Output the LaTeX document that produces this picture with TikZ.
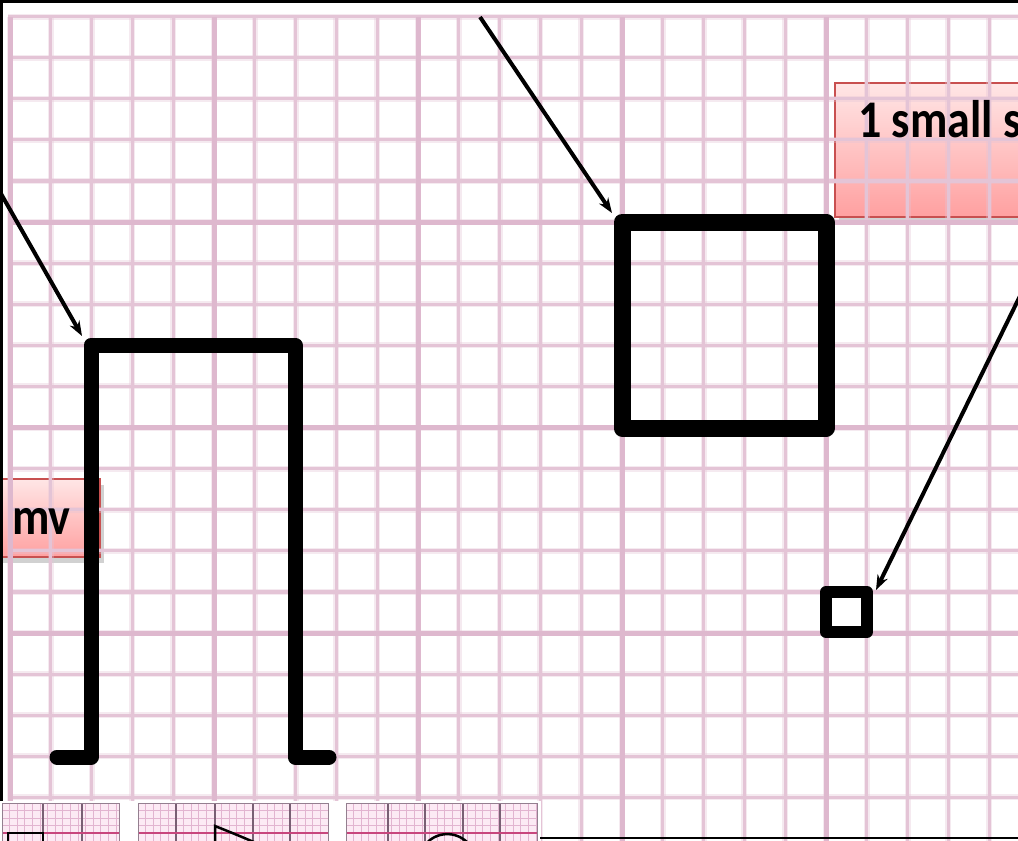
\documentclass[tikz,border=0pt]{standalone}
\usepackage{fontspec}
\usepackage{graphicx}
\newfontfamily\calib{Carlito}
\usetikzlibrary{arrows.meta}
\definecolor{gridc}{RGB}{228,196,214}
\definecolor{gridM}{RGB}{222,184,206}
\definecolor{boxtop}{RGB}{255,230,230}
\definecolor{boxbot}{RGB}{255,160,160}
\definecolor{boxedge}{RGB}{200,80,80}
\definecolor{thbg}{RGB}{252,234,244}
\definecolor{thfine}{RGB}{226,180,208}
\definecolor{thmaj}{RGB}{120,95,115}
\definecolor{thred}{RGB}{200,70,125}
\definecolor{baseline}{RGB}{75,65,72}

\newcommand{\thumbbox}[3]{%
  \begin{scope}
    \clip (#1,803) rectangle (#2,841);
    \fill[thbg] (#1,803) rectangle (#2,841);
    \foreach \i in {0,...,26}{\draw[thfine,line width=0.8pt] ({#1+\i*7.6},803) -- ({#1+\i*7.6},841);}
    \foreach \i in {0,...,5}{\draw[thfine,line width=0.8pt] (#1,{803+\i*7.6}) -- (#2,{803+\i*7.6});}
    \foreach \m in {#3}{\draw[thmaj,line width=1.2pt] (\m,803) -- (\m,841);}
    \draw[thred,line width=1.5pt] (#1,833) -- (#2,833);
  \end{scope}
  \draw[thmaj!80,line width=1pt] (#1,841) |- (#2,803) -- (#2,841);
}

\tikzset{
  halo/.style={line width=6pt, color=gridc, opacity=0.35},
  minorg/.style={line width=3.2pt, color=gridc},
  majorg/.style={line width=5pt, color=gridM},
  heavy/.style={line width=15pt, line join=round, line cap=round, black},
  arr/.style={line width=4pt, black, -{Stealth[length=15pt,width=11pt]}},
  lblbox/.style={top color=boxtop, bottom color=boxbot, draw=boxedge, line width=1.2pt},
  shadowbox/.style={fill=black, opacity=0.18},
  lbltext/.style={inner sep=0pt, font=\calib\bfseries\fontsize{46}{50}\selectfont}
}

\begin{document}
\begin{tikzpicture}[x=1pt,y=-1pt]
\useasboundingbox (0,0) rectangle (1018,841);
\clip (0,0) rectangle (1018,841);
\fill[white] (0,0) rectangle (1018,841);

% label boxes (beneath the grid)
\fill[shadowbox] (839,89) rectangle (1025,223);
\path[lblbox] (835,83) rectangle (1025,217);
\fill[shadowbox] (-5,485) rectangle (104,563);
\path[lblbox] (-5,479) rectangle (100,557);

% grid halos
\foreach \k in {0,...,24}{\pgfmathsetmacro{\xx}{10+\k*40.8}\draw[halo] (\xx,17) -- (\xx,841);}
\foreach \j in {-5,...,14}{\pgfmathsetmacro{\yy}{222+\j*41.1}\draw[halo] (8,\yy) -- (1018,\yy);}
% grid minor
\foreach \k in {0,...,24}{\pgfmathsetmacro{\xx}{10+\k*40.8}\draw[minorg] (\xx,17) -- (\xx,841);}
\foreach \j in {-5,...,14}{\pgfmathsetmacro{\yy}{222+\j*41.1}\draw[minorg] (8,\yy) -- (1018,\yy);}
% grid major
\foreach \k in {0,5,10,15,20}{\pgfmathsetmacro{\xx}{10+\k*40.8}\draw[majorg] (\xx,17) -- (\xx,841);}
\foreach \j in {0,5,10}{\pgfmathsetmacro{\yy}{222+\j*41.1}\draw[majorg] (8,\yy) -- (1018,\yy);}

% white gap and bottom strip
\fill[white] (0,801) rectangle (541,841);
\thumbbox{2}{119}{43,82}
\thumbbox{138}{328}{176,215,253,290}
\thumbbox{346}{537}{388,425,463,500}
\draw[line width=2.5pt] (8,845) -- (8,833) -- (43,833) -- (43,845);
\draw[line width=2.5pt] (215,845) -- (215,826) .. controls (225,830) and (240,836) .. (256,843);
\draw[line width=2.5pt] (425,845) .. controls (435,832) and (456,829) .. (470,845);
\draw[baseline, line width=2pt] (540,838) -- (1018,838);

% frame
\fill[black] (0,0) rectangle (1018,3);
\fill[black] (0,0) rectangle (3,801);

% label texts
\node[lbltext, anchor=base west] (t1) at (858,137) {\scalebox{1}[1.15]{1 small s}};
\node[lbltext, anchor=base west] (t2) at (12,534) {\scalebox{1}[1.15]{mv}};

% shapes
\draw[heavy] (57,757) -- (91,757) -- (91,345) -- (295,345) -- (295,757) -- (329,757);
\coordinate (pulsecorner) at (82,336);
\draw[line width=17pt, line join=round] (622,222) rectangle (826,428);
\coordinate (bigcorner) at (612,213);
\draw[line width=12pt, line join=round] (826,592) rectangle (867,632);
\coordinate (smallcorner) at (876,590);

% arrows
\coordinate (a1) at (0,192);
\coordinate (a2) at (480,17);
\coordinate (a3) at (1020,296);
\draw[arr] (a1) -- (pulsecorner);
\draw[arr] (a2) -- (bigcorner);
\draw[arr] (a3) -- (smallcorner);
\end{tikzpicture}
\end{document}
